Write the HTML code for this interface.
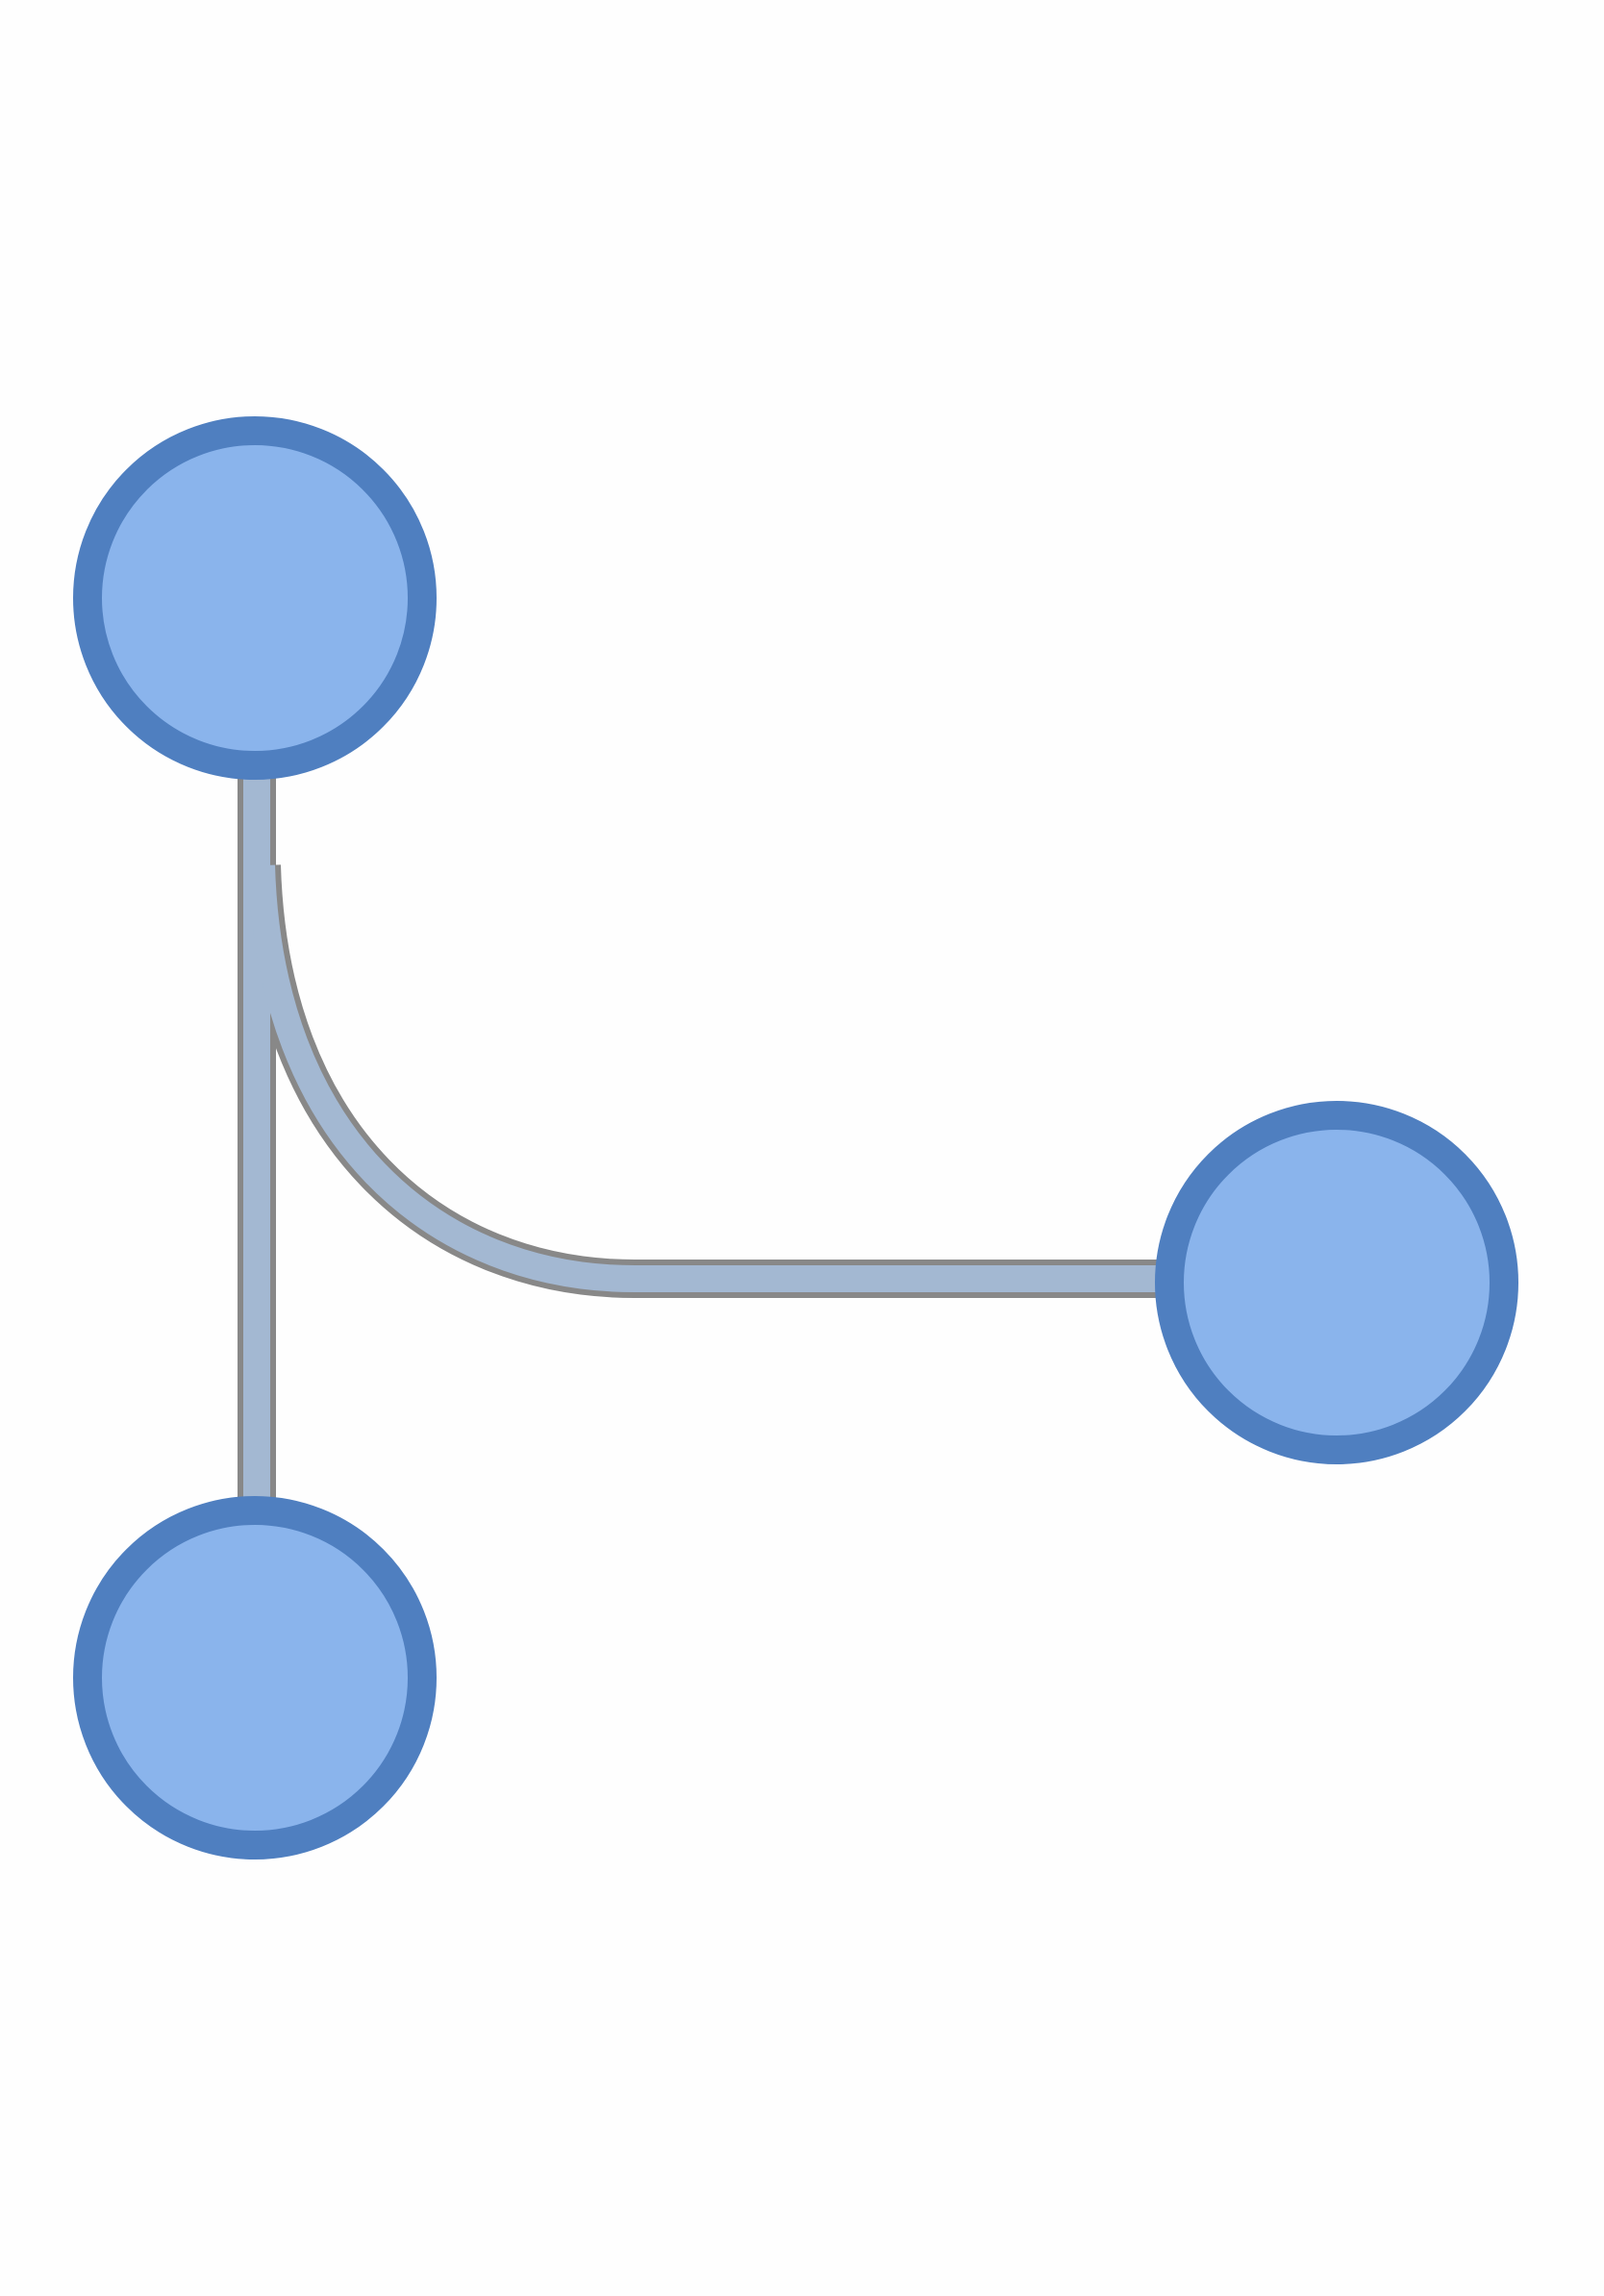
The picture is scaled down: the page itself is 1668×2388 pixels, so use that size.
<!DOCTYPE html>
<html><head><meta charset="utf-8"><style>html,body{margin:0;padding:0;background:#fff;}svg{display:block}</style></head>
<body>
<svg width="1668" height="2388" viewBox="0 0 1668 2388" xmlns="http://www.w3.org/2000/svg">
<rect width="1668" height="2388" fill="#fefefe"/>
<g fill="none" stroke-linecap="butt">
<path d="M267 700 L267 1640" stroke="#888" stroke-width="40"/>
<path d="M272 900 C 280 1180, 450 1330, 660 1330 L 1250 1330" stroke="#888" stroke-width="40"/>
<path d="M267 700 L267 1640" stroke="#a3b8d2" stroke-width="28"/>
<path d="M272 900 C 280 1180, 450 1330, 660 1330 L 1250 1330" stroke="#a3b8d2" stroke-width="28"/>
</g>
<g fill="#8ab4ec" stroke="#4f7fc0" stroke-width="30">
<circle cx="265" cy="622" r="174"/>
<circle cx="1390" cy="1334" r="174"/>
<circle cx="265" cy="1745" r="174"/>
</g>
</svg>
</body></html>
